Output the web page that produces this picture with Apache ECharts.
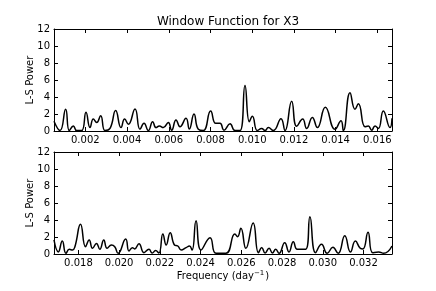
<!DOCTYPE html>
<html><head><meta charset="utf-8">
<script src="https://cdn.jsdelivr.net/npm/echarts@6/dist/echarts.min.js"></script>
<style>html,body{margin:0;padding:0;background:#fff}#c{width:436px;height:291px}</style>
</head><body><div id="c"></div>
<script>
// ---- data ----
const titleText = 'Window Function for X3';
const yTicks = [0, 2, 4, 6, 8, 10, 12];
const xTicksTop = [0.002, 0.004, 0.006, 0.008, 0.010, 0.012, 0.014, 0.016];
const xTicksBottom = [0.018, 0.020, 0.022, 0.024, 0.026, 0.028, 0.030, 0.032];
const xRangeTop = [0.0005, 0.0167];
const xRangeBottom = [0.0168, 0.0334];

const freqTop = [0.000500,0.000788,0.001059,0.001235,0.001427,0.001586,0.001826,0.002034,0.002226,0.002385,
0.002545,0.002737,0.002944,0.003184,0.003456,0.003712,0.003887,0.004063,0.004383,0.004622,
0.004814,0.005022,0.005229,0.005389,0.005549,0.005740,0.005980,0.006140,0.006348,0.006539,
0.006827,0.006987,0.007210,0.007418,0.007658,0.008009,0.008249,0.008457,0.008648,0.008936,
0.009175,0.009415,0.009655,0.009862,0.010006,0.010246,0.010454,0.010613,0.010773,0.011013,
0.011380,0.011572,0.011891,0.012131,0.012419,0.012610,0.012882,0.013122,0.013505,0.013969,
0.014256,0.014368,0.014688,0.014927,0.015087,0.015407,0.015566,0.015726,0.015886,0.016046,
0.016285,0.016605,0.016700];
const powerTop = [1.15,0.05,2.55,0.05,0.6,0.05,0.05,2.2,0.4,1.4,
1.0,1.8,0.05,0.3,2.4,0.4,1.4,0.8,2.6,0.2,
0.9,0.05,1.1,0.4,0.6,0.4,1.0,0.1,1.3,0.5,
1.5,0.25,2.0,0.2,0.05,2.35,0.9,0.9,0.1,0.85,
0.05,0.05,5.35,1.1,1.75,0.05,0.3,0.05,0.4,0.05,
1.45,0.05,3.5,0.55,1.4,0.3,1.6,0.4,2.8,0.2,
1.2,0.05,4.5,2.55,3.2,0.5,0.6,0.1,0.6,0.3,
2.35,0.4,1.5];

const freqBottom = [0.016800,0.017012,0.017207,0.017387,0.017550,0.017713,0.017827,0.018104,0.018349,0.018528,
0.018691,0.018887,0.019050,0.019245,0.019408,0.019620,0.019783,0.019946,0.020321,0.020484,
0.020647,0.020761,0.020973,0.021218,0.021462,0.021625,0.021788,0.021951,0.022147,0.022310,
0.022506,0.022718,0.022881,0.023044,0.023288,0.023451,0.023582,0.023777,0.024022,0.024462,
0.024755,0.025244,0.025685,0.025815,0.025978,0.026223,0.026581,0.026842,0.027005,0.027168,
0.027364,0.027527,0.027690,0.027853,0.028130,0.028342,0.028554,0.028749,0.029157,0.029369,
0.029646,0.029939,0.030217,0.030494,0.030755,0.031081,0.031358,0.031602,0.031847,0.031977,
0.032222,0.032450,0.032743,0.032988,0.033400];
const powerBottom = [1.65,0.25,1.53,0.08,0.55,0.47,0.86,3.49,0.86,1.65,
0.67,1.25,0.55,1.65,0.67,1.06,0.86,0.08,1.76,0.35,
0.75,0.6,1.22,0.16,0.55,0.12,0.4,0.12,2.35,1.06,
2.51,1.06,0.94,0.47,0.75,0.94,0.47,3.92,0.47,1.92,
0.08,0.08,2.35,2.04,3.02,0.67,3.65,0.16,0.75,0.12,
0.67,0.12,0.55,0.08,1.33,0.24,1.45,0.55,0.55,4.39,
0.16,1.14,0.08,0.78,0.08,2.16,0.24,1.53,0.67,0.6,
2.55,0.16,0.24,0.08,0.94];

// ---- chart ----
const FONT = 'DejaVu Sans';
const chart = echarts.init(document.getElementById('c'), null, {renderer: 'canvas'});
const axLine = {show: true, onZero: false, lineStyle: {color: '#000', width: 1}};
function xAxisMain(grid, range, ticks, withName) {
  return {
    type: 'value', gridIndex: grid, position: 'bottom', min: range[0], max: range[1],
    axisLine: axLine,
    axisTick: {show: true, inside: true, length: 4, customValues: ticks, lineStyle: {color: '#000'}},
    axisLabel: {show: true, customValues: ticks, formatter: v => v.toFixed(3), color: '#000',
      fontFamily: FONT, fontSize: 10, margin: 4},
    splitLine: {show: false},
    name: withName ? 'Frequency (day{sup|\u22121})' : '',
    nameLocation: 'middle', nameGap: 16,
    nameTextStyle: {color: '#000', fontFamily: FONT, fontSize: 10,
      rich: {sup: {fontSize: 7, fontFamily: FONT, color: '#000', padding: [0, 1, 6, 0]}}}
  };
}
function xAxisTop(grid, range, ticks) {
  return {
    type: 'value', gridIndex: grid, position: 'top', min: range[0], max: range[1],
    axisLine: axLine,
    axisTick: {show: true, inside: true, length: 4, customValues: ticks, lineStyle: {color: '#000'}},
    axisLabel: {show: false}, splitLine: {show: false}
  };
}
function yAxisMain(grid) {
  return {
    type: 'value', gridIndex: grid, position: 'left', min: 0, max: 12, interval: 2,
    axisLine: axLine,
    axisTick: {show: true, inside: true, length: 4, lineStyle: {color: '#000'}},
    axisLabel: {show: true, color: '#000', fontFamily: FONT, fontSize: 10, margin: 4,
      customValues: yTicks},
    splitLine: {show: false},
    name: 'L-S Power', nameLocation: 'middle', nameGap: 19, nameRotate: 90,
    nameMoveOverlap: false,
    nameTextStyle: {color: '#000', fontFamily: FONT, fontSize: 10}
  };
}
function yAxisRight(grid) {
  return {
    type: 'value', gridIndex: grid, position: 'right', min: 0, max: 12, interval: 2,
    axisLine: axLine,
    axisTick: {show: true, inside: true, length: 4, lineStyle: {color: '#000'}},
    axisLabel: {show: false}, splitLine: {show: false}
  };
}
const lineSeries = (xi, yi, fx, py) => ({
  type: 'line', xAxisIndex: xi, yAxisIndex: yi,
  data: fx.map((f, i) => [f, py[i]]),
  showSymbol: false, smooth: 0.5, clip: true,
  lineStyle: {color: '#000', width: 1.5}, silent: true, animation: false
});
chart.setOption({
  animation: false,
  backgroundColor: '#fff',
  title: {text: titleText, left: 223, textAlign: 'center', top: 11,
    textStyle: {fontFamily: FONT, fontSize: 12, fontWeight: 'normal', color: '#000'}},
  grid: [
    {left: 54, top: 29, width: 338, height: 102},
    {left: 54, top: 152, width: 338, height: 102}
  ],
  xAxis: [
    xAxisMain(0, xRangeTop, xTicksTop, false),
    xAxisTop(0, xRangeTop, xTicksTop),
    xAxisMain(1, xRangeBottom, xTicksBottom, true),
    xAxisTop(1, xRangeBottom, xTicksBottom)
  ],
  yAxis: [yAxisMain(0), yAxisRight(0), yAxisMain(1), yAxisRight(1)],
  series: [
    lineSeries(0, 0, freqTop, powerTop),
    lineSeries(2, 2, freqBottom, powerBottom)
  ]
});
</script>
</body></html>
